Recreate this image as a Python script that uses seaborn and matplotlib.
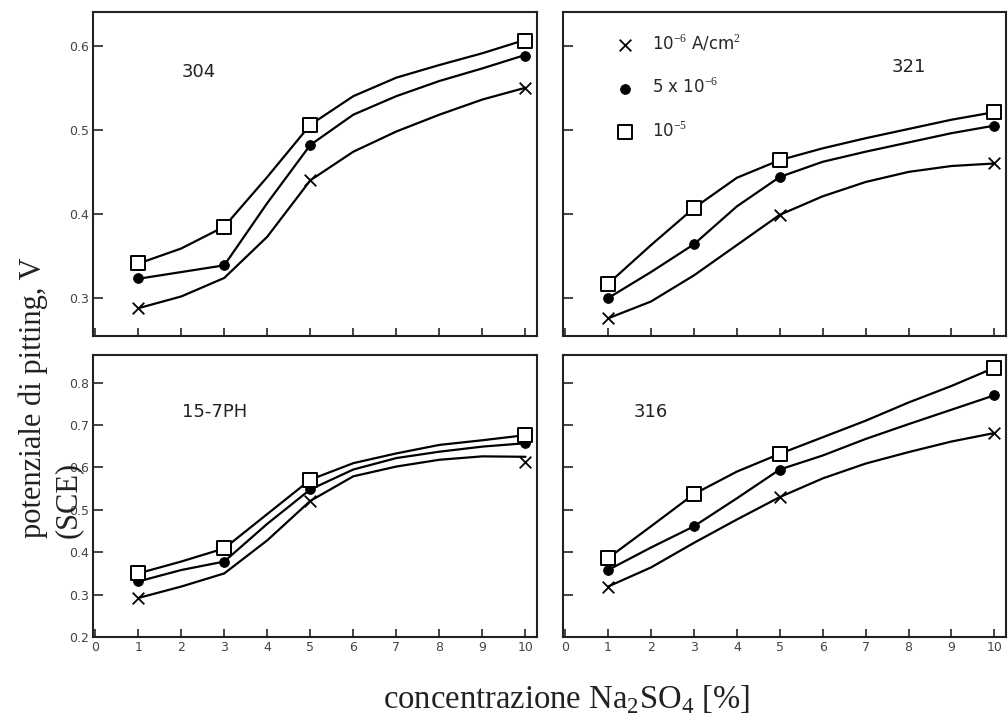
import numpy as np
import pandas as pd
import seaborn as sns
import matplotlib.pyplot as plt

# concentration of Na2SO4 [%] where the curves are read
conc = [1, 2, 3, 4, 5, 6, 7, 8, 9, 10]
# concentrations where measured points are marked
conc_marks = [1, 3, 5, 10]
conc_marks_x = [1, 5, 10]

series_labels = ["10$^{-6}$ A/cm$^2$", "5 x 10$^{-6}$", "10$^{-5}$"]

# steel 304
s304_x_curve = [0.288, 0.302, 0.324, 0.373, 0.440, 0.474, 0.498, 0.518, 0.536, 0.550]
s304_dot_curve = [0.323, 0.331, 0.339, 0.413, 0.482, 0.518, 0.540, 0.558, 0.573, 0.589]
s304_sq_curve = [0.341, 0.359, 0.385, 0.444, 0.506, 0.540, 0.562, 0.577, 0.591, 0.607]
s304_x_marks = [0.288, 0.440, 0.550]
s304_dot_marks = [0.324, 0.339, 0.482, 0.588]
s304_sq_marks = [0.342, 0.385, 0.506, 0.606]

# steel 321
s321_x_curve = [0.276, 0.296, 0.327, 0.363, 0.399, 0.421, 0.438, 0.450, 0.457, 0.460]
s321_dot_curve = [0.300, 0.331, 0.364, 0.409, 0.444, 0.462, 0.474, 0.485, 0.496, 0.505]
s321_sq_curve = [0.317, 0.363, 0.407, 0.443, 0.464, 0.478, 0.490, 0.501, 0.512, 0.521]
s321_x_marks = [0.276, 0.399, 0.460]
s321_dot_marks = [0.300, 0.364, 0.444, 0.505]
s321_sq_marks = [0.317, 0.407, 0.464, 0.521]

# steel 15-7PH
s157_x_curve = [0.292, 0.319, 0.350, 0.428, 0.521, 0.579, 0.602, 0.618, 0.626, 0.625]
s157_dot_curve = [0.331, 0.358, 0.378, 0.467, 0.548, 0.595, 0.622, 0.637, 0.649, 0.657]
s157_sq_curve = [0.350, 0.378, 0.409, 0.490, 0.571, 0.610, 0.633, 0.653, 0.664, 0.676]
s157_x_marks = [0.292, 0.521, 0.612]
s157_dot_marks = [0.331, 0.378, 0.548, 0.657]
s157_sq_marks = [0.350, 0.409, 0.571, 0.676]

# steel 316
s316_x_curve = [0.319, 0.364, 0.422, 0.477, 0.530, 0.574, 0.609, 0.636, 0.661, 0.681]
s316_dot_curve = [0.358, 0.411, 0.461, 0.527, 0.595, 0.628, 0.667, 0.702, 0.736, 0.770]
s316_sq_curve = [0.386, 0.461, 0.537, 0.590, 0.632, 0.671, 0.710, 0.753, 0.792, 0.835]
s316_x_marks = [0.319, 0.530, 0.681]
s316_dot_marks = [0.358, 0.461, 0.595, 0.770]
s316_sq_marks = [0.386, 0.537, 0.632, 0.835]

top_yticks = [0.3, 0.4, 0.5, 0.6]
bottom_yticks = [0.2, 0.3, 0.4, 0.5, 0.6, 0.7, 0.8]
xticks = [0, 1, 2, 3, 4, 5, 6, 7, 8, 9, 10]

sns.set_theme(style="ticks")
plt.rcParams["font.family"] = ["DejaVu Sans"]
plt.rcParams["xtick.direction"] = "in"
plt.rcParams["ytick.direction"] = "in"
plt.rcParams["xtick.major.size"] = 6
plt.rcParams["ytick.major.size"] = 7
plt.rcParams["xtick.major.width"] = 1.2
plt.rcParams["ytick.major.width"] = 1.2
plt.rcParams["axes.linewidth"] = 1.5
plt.rcParams["axes.edgecolor"] = "#222222"
plt.rcParams["mathtext.fontset"] = "custom"
plt.rcParams["mathtext.rm"] = "Liberation Serif"


def draw_panel(ax, name, name_pos, curves, marks, ylim, yticks, ylabels, xlabels, legend=False):
    """Three hand-drawn-like curves with their measured points."""
    for curve in curves:
        df = pd.DataFrame({"conc": conc, "v": curve})
        sns.lineplot(data=df, x="conc", y="v", ax=ax, color="black", linewidth=1.6)

    x_m, dot_m, sq_m = marks
    lab = series_labels if legend else [None, None, None]
    sns.scatterplot(x=conc_marks_x, y=x_m, ax=ax, marker="x", color="black",
                    s=70, linewidth=1.3, label=lab[0], zorder=5)
    sns.scatterplot(x=conc_marks, y=dot_m, ax=ax, marker="o", color="black",
                    s=50, edgecolor="black", label=lab[1], zorder=5)
    sns.scatterplot(x=conc_marks, y=sq_m, ax=ax, marker="s", facecolor="white",
                    edgecolor="black", s=110, linewidth=1.4, label=lab[2], zorder=6)

    ax.set_xlim(-0.05, 10.27)
    ax.set_ylim(*ylim)
    ax.set_yticks(yticks)
    ax.set_xticks(xticks)
    ax.set_yticklabels([f"{t:.1f}" for t in yticks] if ylabels else [])
    ax.set_xticklabels([str(t) for t in xticks] if xlabels else [])
    ax.tick_params(labelsize=9, labelcolor="#444444", pad=3)
    ax.set_xlabel("")
    ax.set_ylabel("")
    for side in ["top", "right"]:
        ax.spines[side].set_visible(True)

    ax.text(name_pos[0], name_pos[1], name, fontsize=13, ha="center", va="center", color="#222222")

    if legend:
        ax.legend(loc="upper left", bbox_to_anchor=(0.088, 0.955), frameon=False,
                  fontsize=12, labelspacing=1.45, handletextpad=0.6,
                  borderaxespad=0.0)
    elif ax.get_legend() is not None:
        ax.get_legend().remove()


fig = plt.figure(figsize=(10.08, 7.22), dpi=100)

ax1 = fig.add_axes([0.0923, 0.5346, 0.4405, 0.4488])
ax2 = fig.add_axes([0.5585, 0.5346, 0.4395, 0.4488])
ax3 = fig.add_axes([0.0923, 0.1177, 0.4405, 0.3906])
ax4 = fig.add_axes([0.5585, 0.1177, 0.4395, 0.3906])

top_ylim = (0.255, 0.64)
bottom_ylim = (0.2, 0.865)

draw_panel(ax1, "304", (2.4, 0.569),
           [s304_x_curve, s304_dot_curve, s304_sq_curve],
           [s304_x_marks, s304_dot_marks, s304_sq_marks],
           top_ylim, top_yticks, True, False)
draw_panel(ax2, "321", (8.0, 0.575),
           [s321_x_curve, s321_dot_curve, s321_sq_curve],
           [s321_x_marks, s321_dot_marks, s321_sq_marks],
           top_ylim, top_yticks, False, False, legend=True)
draw_panel(ax3, "15-7PH", (2.77, 0.730),
           [s157_x_curve, s157_dot_curve, s157_sq_curve],
           [s157_x_marks, s157_dot_marks, s157_sq_marks],
           bottom_ylim, bottom_yticks, True, True)
draw_panel(ax4, "316", (2.0, 0.730),
           [s316_x_curve, s316_dot_curve, s316_sq_curve],
           [s316_x_marks, s316_dot_marks, s316_sq_marks],
           bottom_ylim, bottom_yticks, False, True)

fig.text(0.018, 1 - 538 / 722, "potenziale di pitting, V\n(SCE)", rotation=90,
         ha="left", va="bottom", multialignment="left", linespacing=1.3,
         fontsize=22, family="Liberation Serif", color="#222222")
fig.text(567 / 1008, 1 - 700 / 722, "concentrazione Na$_2$SO$_4$ [%]",
         ha="center", va="center", fontsize=23.5, family="Liberation Serif", color="#222222")

plt.savefig("out.png", dpi=100)
plt.close()
